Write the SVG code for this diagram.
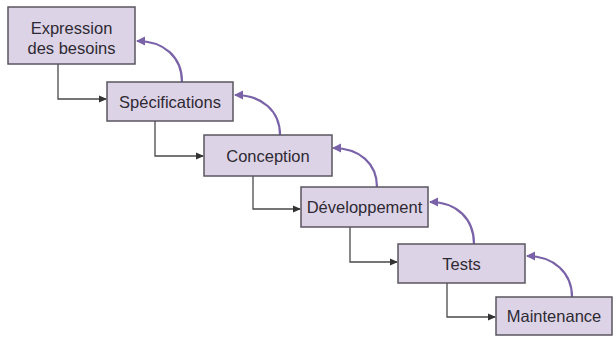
<svg xmlns="http://www.w3.org/2000/svg" width="616" height="338" viewBox="0 0 616 338">
<defs>
<style>
.box{fill:#ddd3e7;stroke:#5a5560;stroke-width:1.5}
.lbl{font-family:"Liberation Sans",Arial,sans-serif;font-size:16.5px;fill:#2e2a33;text-anchor:middle}
.flow{fill:none;stroke:#4a4a4a;stroke-width:1.3}
.back{fill:none;stroke:#7a62a8;stroke-width:2.2}
</style>
<marker id="ah" markerWidth="8" markerHeight="8" refX="7" refY="4" orient="auto" markerUnits="userSpaceOnUse">
<path d="M0,0.5 L8,4 L0,7.5 Z" fill="#333"/>
</marker>
<marker id="ahp" markerWidth="10" markerHeight="10" refX="8" refY="5" orient="auto" markerUnits="userSpaceOnUse">
<path d="M0,0.5 L9,5 L0,9.5 Z" fill="#7a62a8"/>
</marker>
</defs>
<rect width="616" height="338" fill="#ffffff"/>
<g id="connectors">
<path class="flow" d="M58,64 V99 H106" marker-end="url(#ah)"/>
<path class="flow" d="M155,121 V156 H203" marker-end="url(#ah)"/>
<path class="flow" d="M253,176 V209 H300" marker-end="url(#ah)"/>
<path class="flow" d="M350,227 V262 H397" marker-end="url(#ah)"/>
<path class="flow" d="M447,283 V317 H495" marker-end="url(#ah)"/>
<path class="back" d="M182,82 C182,57 164,41 137,41" marker-end="url(#ahp)"/>
<path class="back" d="M280,135 C280,111 262,95 235,95" marker-end="url(#ahp)"/>
<path class="back" d="M377,187 C377,164 360,148 333,148" marker-end="url(#ahp)"/>
<path class="back" d="M474,244 C474,219 457,202 430,202" marker-end="url(#ahp)"/>
<path class="back" d="M572,297 C572,273 554,256 527,256" marker-end="url(#ahp)"/>
</g>
<g id="n1"><rect class="box" x="8" y="7" width="127" height="57"/><text class="lbl" x="71.5" y="34">Expression</text><text class="lbl" x="71.5" y="54">des besoins</text></g>
<g id="n2"><rect class="box" x="107" y="82" width="126" height="39"/><text class="lbl" x="170" y="107.5">Spécifications</text></g>
<g id="n3"><rect class="box" x="204" y="135" width="128" height="41"/><text class="lbl" x="268" y="161.5">Conception</text></g>
<g id="n4"><rect class="box" x="301" y="187" width="127" height="40"/><text class="lbl" x="364.5" y="213">Développement</text></g>
<g id="n5"><rect class="box" x="398" y="244" width="127" height="39"/><text class="lbl" x="461.5" y="269.5">Tests</text></g>
<g id="n6"><rect class="box" x="496" y="297" width="116" height="38"/><text class="lbl" x="554" y="322">Maintenance</text></g>
</svg>
